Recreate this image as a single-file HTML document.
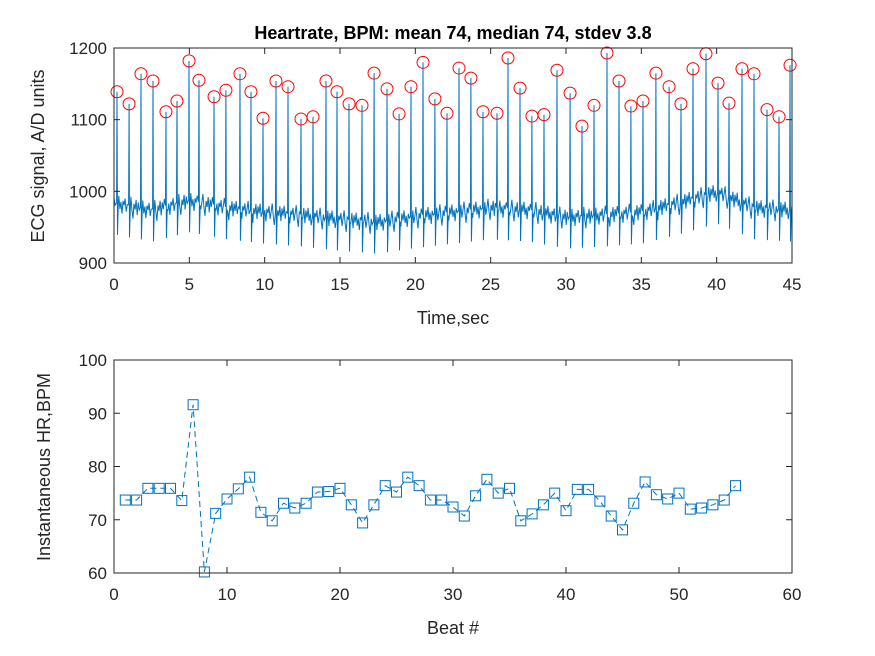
<!DOCTYPE html>
<html><head><meta charset="utf-8"><style>
body{margin:0;background:#fff;}
svg{display:block;font-family:"Liberation Sans",Arial,sans-serif;}
</style></head><body>
<svg id="fig" width="875" height="656" viewBox="0 0 875 656" xmlns="http://www.w3.org/2000/svg">
<rect width="875" height="656" fill="#fff"/>
<text x="453" y="39" text-anchor="middle" font-size="18" font-weight="bold">Heartrate, BPM: mean 74, median 74, stdev 3.8</text>
<text transform="translate(44,156) rotate(-90)" text-anchor="middle" font-size="18" fill="#262626">ECG signal, A/D units</text>
<text x="453" y="324" text-anchor="middle" font-size="18" fill="#262626">Time,sec</text>
<text transform="translate(50,467) rotate(-90)" text-anchor="middle" font-size="18" fill="#262626">Instantaneous HR,BPM</text>
<text x="453" y="634" text-anchor="middle" font-size="18" fill="#262626">Beat #</text>
<g id="gtop"></g><g id="gbot"></g>
</svg>
<script>
const peakT=[0.20,1.00,1.79,2.59,3.45,4.18,4.98,5.64,6.64,7.43,8.36,9.09,9.89,10.75,11.55,12.41,13.21,14.07,14.80,15.60,16.46,17.26,18.12,18.92,19.71,20.51,21.30,22.10,22.90,23.69,24.49,25.42,26.15,26.95,27.74,28.54,29.40,30.27,31.06,31.86,32.72,33.52,34.31,35.11,35.97,36.84,37.63,38.43,39.29,40.09,40.82,41.68,42.48,43.34,44.14,44.87];
const peakV=[1139,1122,1164,1154,1111,1126,1182,1155,1132,1141,1164,1139,1102,1154,1146,1101,1104,1154,1139,1122,1120,1165,1143,1108,1146,1180,1129,1109,1172,1158,1111,1109,1186,1144,1105,1107,1169,1137,1091,1120,1193,1154,1119,1126,1165,1146,1122,1171,1192,1151,1123,1171,1164,1114,1104,1176];
const baseT=[0,2.5,5,7.5,10,12.5,15,17.5,20,22.5,25,27.5,30,32.5,35,37.5,40,42.5,45];
const baseV=[985,975,988,978,972,968,962,958,966,972,978,975,965,968,972,985,1000,978,975];
const hrBeat=[1,2,3,4,5,6,7,8,9,10,11,12,13,14,15,16,17,18,19,20,21,22,23,24,25,26,27,28,29,30,31,32,33,34,35,36,37,38,39,40,41,42,43,44,45,46,47,48,49,50,51,52,53,54,55];
const hrVal=[73.7,73.7,75.9,75.9,75.9,73.6,91.6,60.2,71.2,73.9,75.8,78,71.4,69.8,73.1,72.2,73.1,75.2,75.3,75.9,72.8,69.4,72.8,76.4,75.2,78,76.4,73.7,73.7,72.4,70.7,74.5,77.6,75,75.9,69.8,71.1,72.8,75,71.7,75.7,75.7,73.5,70.7,68.1,73.1,77.1,74.7,73.9,75,72,72.2,72.8,73.7,76.4];
const topXTicks=[0,5,10,15,20,25,30,35,40,45];
const topYTicks=[900,1000,1100,1200];
const botXTicks=[0,10,20,30,40,50,60];
const botYTicks=[60,70,80,90,100];

(function(){
const NS="http://www.w3.org/2000/svg";
function mk(p,tag,a){const e=document.createElementNS(NS,tag);for(const k in a)e.setAttribute(k,a[k]);p.appendChild(e);return e;}
const L=114,R=792;
const tx=t=>L+(t/45)*(R-L), ty=v=>263-(v-900)/300*215;
const bx=b=>L+(b/60)*(R-L), by=v=>573-(v-60)/40*213;
function baseAt(t){for(let i=0;i<baseT.length-1;i++){if(t<=baseT[i+1]){const f=(t-baseT[i])/(baseT[i+1]-baseT[i]);return baseV[i]+f*(baseV[i+1]-baseV[i]);}}return baseV[baseV.length-1];}
const wig=[6,-4,10,-8,2,-14,4,-2,8,-10,0,12,-6,-18,3,-5,9,-12];

function axes(g,y0,y1,xt,xf,yt,yf,names){
  const box=mk(g,'rect',{x:L,y:y0,width:R-L,height:y1-y0,fill:'none',stroke:'#262626','stroke-width':1});
  
  
  xt.forEach(v=>{const x=xf(v);
    mk(g,'line',{x1:x,x2:x,y1:y1,y2:y1-6,stroke:'#262626'});
    mk(g,'line',{x1:x,x2:x,y1:y0,y2:y0+6,stroke:'#262626'});
    const t=mk(g,'text',{x:x,y:y1+27,'text-anchor':'middle','font-size':17,fill:'#262626'});t.textContent=v;
    
    });
  yt.forEach(v=>{const y=yf(v);
    mk(g,'line',{x1:L,x2:L+6,y1:y,y2:y,stroke:'#262626'});
    mk(g,'line',{x1:R,x2:R-6,y1:y,y2:y,stroke:'#262626'});
    const t=mk(g,'text',{x:L-7,y:y+6,'text-anchor':'end','font-size':17,fill:'#262626'});t.textContent=v;
    
    });
}
const gTop=document.getElementById('gtop'), gBot=document.getElementById('gbot');
let pts=[];let lastT=0;let k=0;
for(let i=0;i<peakT.length;i++){
  const t=peakT[i];
  for(let s=lastT;s<t-0.08;s+=0.07){const b=baseAt(s);pts.push([s,b+wig[k%wig.length]]);k++;}
  const b=baseAt(t);
  pts.push([t-0.03,b]);pts.push([t,peakV[i]]);pts.push([t+0.03,b-45]);pts.push([t+0.08,b-5]);
  lastT=t+0.12;
}
for(let s=lastT;s<=45;s+=0.07){pts.push([s,baseAt(s)+wig[k%wig.length]]);k++;}
const ecg=mk(gTop,'path',{d:'M'+pts.map(p=>tx(p[0]).toFixed(1)+','+ty(p[1]).toFixed(1)).join('L'),fill:'none',stroke:'#0072BD','stroke-width':1});


peakT.forEach((t,i)=>{const c=mk(gTop,'circle',{cx:tx(t),cy:ty(peakV[i]),r:6,fill:'none',stroke:'#FF0000','stroke-width':1});
  
  });
axes(gTop,48,263,topXTicks,tx,topYTicks,ty,'top');
const hr=mk(gBot,'path',{d:'M'+hrBeat.map((b,i)=>bx(b).toFixed(1)+','+by(hrVal[i]).toFixed(1)).join('L'),fill:'none',stroke:'#0072BD','stroke-width':1,'stroke-dasharray':'6,4'});


hrBeat.forEach((b,i)=>{const r=mk(gBot,'rect',{x:bx(b)-5,y:by(hrVal[i])-5,width:10,height:10,fill:'none',stroke:'#0072BD','stroke-width':1});
  
  });
axes(gBot,360,573,botXTicks,bx,botYTicks,by,'bottom');
})();
</script>
</body></html>
